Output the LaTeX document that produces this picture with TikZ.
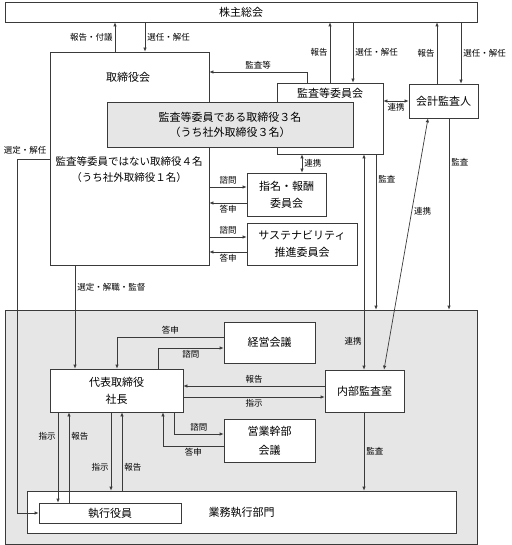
\documentclass[tikz,border=0pt]{standalone}
\usepackage{fontspec}
\setmainfont{Noto Sans CJK JP}
\usetikzlibrary{arrows.meta}
\definecolor{linegray}{HTML}{3A3A3A}
\definecolor{panelgray}{HTML}{E6E6E6}
\tikzset{
	box/.style={draw=linegray, line width=0.7pt, fill=white, inner sep=0pt, align=center, font=\fontsize{11}{17}\selectfont},
	txt/.style={inner sep=0pt, align=center, font=\fontsize{11}{16}\selectfont},
	lbl/.style={inner sep=2pt, font=\fontsize{8.5}{10}\selectfont},
	arr/.style={draw=linegray, line width=0.7pt, -{Latex[length=4pt,width=3.5pt]}},
	darr/.style={draw=linegray, line width=0.7pt, {Latex[length=4pt,width=3.5pt]}-{Latex[length=4pt,width=3.5pt]}}
}
\begin{document}
\begin{tikzpicture}[x=1pt,y=-1pt]
	\useasboundingbox (0,0) rectangle (511,545);
	\node[box, minimum width=472pt, minimum height=20pt] (soukai) at (241,12) {株主総会};
	\node[box, fill=panelgray, minimum width=472pt, minimum height=234pt] (shikkoarea) at (241,427) {};
	\node[box, minimum width=159pt, minimum height=213pt] (board) at (129.5,158.5) {};
	\node[txt] (boardT) at (128,77) {取締役会};
	\node[txt, font=\fontsize{10.5}{16}\selectfont] (boardM) at (129,170) {監査等委員ではない取締役４名\\（うち社外取締役１名）};
	\node[box, minimum width=106pt, minimum height=71pt] (iinkai) at (330,118.5) {};
	\node[txt] (iinkaiT) at (330,93) {監査等委員会};
	\node[box, fill=panelgray, font=\fontsize{11}{15}\selectfont, minimum width=246pt, minimum height=45pt] (kansa) at (230,124.5) {監査等委員である取締役３名\\（うち社外取締役３名）};
	\node[box, minimum width=69pt, minimum height=34pt] (kaikei) at (443.5,101) {会計監査人};
	\node[box, minimum width=79pt, minimum height=43pt] (shimei) at (286.5,194.5) {指名・報酬\\委員会};
	\node[box, minimum width=110pt, minimum height=42pt] (sustain) at (302,244) {サステナビリティ\\推進委員会};
	\node[box, minimum width=91pt, minimum height=41pt] (keiei) at (269.5,342.5) {経営会議};
	\node[box, minimum width=133pt, minimum height=43pt] (daihyo) at (116.5,390.5) {代表取締役\\社長};
	\node[box, minimum width=79pt, minimum height=42pt] (naibu) at (364.5,391) {内部監査室};
	\node[box, minimum width=91pt, minimum height=43pt, font=\fontsize{11}{19}\selectfont] (eigyo) at (269.5,440.5) {営業幹部\\会議};
	\node[box, minimum width=429pt, minimum height=42pt] (gyomu) at (241.5,512) {業務執行部門};
	\node[box, minimum width=142pt, minimum height=20pt] (shikko) at (110,513) {執行役員};
	\draw[arr] (board.north -| 115,0) -- (soukai.south -| 115,0) node[lbl,midway,left]{報告・付議};
	\draw[arr] (soukai.south -| 145,0) -- (board.north -| 145,0) node[lbl,midway,right]{選任・解任};
	\draw[arr] (iinkai.north -| 330,0) -- (soukai.south -| 330,0) node[lbl,midway,left]{報告};
	\draw[arr] (soukai.south -| 353,0) -- (iinkai.north -| 353,0) node[lbl,midway,right]{選任・解任};
	\draw[arr] (kaikei.north -| 437,0) -- (soukai.south -| 437,0) node[lbl,midway,left]{報告};
	\draw[arr] (soukai.south -| 461,0) -- (kaikei.north -| 461,0) node[lbl,midway,right]{選任・解任};
	\draw[arr] (iinkai.north -| 307,0) -- (307,72) -- (board.east |- 0,72) node[lbl,midway,above]{監査等};
	\draw[darr] (iinkai.east |- kaikei.west) -- (kaikei.west) node[lbl,midway,below]{連携};
	\draw[darr] (iinkai.south -| 302,0) -- (shimei.north -| 302,0) node[lbl,midway,right]{連携};
	\draw[arr] (board.east |- 0,187) -- (shimei.west |- 0,187) node[lbl,midway,above]{諮問};
	\draw[arr] (shimei.west |- 0,203) -- (board.east |- 0,203) node[lbl,midway,below]{答申};
	\draw[arr] (board.east |- 0,237) -- (sustain.west |- 0,237) node[lbl,midway,above]{諮問};
	\draw[arr] (sustain.west |- 0,252) -- (board.east |- 0,252) node[lbl,midway,below]{答申};
	\draw[arr] (board.west |- 0,159) -| (shikko.west -| 17,0) -- (shikko.west);
	\node[lbl] (senteiL) at (25,150) {選定・解任};
	\draw[arr] (board.south -| 75,0) -- (daihyo.north -| 75,0) node[lbl,pos=0.21,right]{選定・解職・監督};
	\draw[arr] (iinkai.south -| 376,0) -- (shikkoarea.north -| 376,0) node[lbl,pos=0.16,right]{監査};
	\draw[darr] (iinkai.south -| 364,0) -- (naibu.north -| 364,0) node[lbl,pos=0.87,left]{連携};
	\draw[arr] (kaikei.south -| 449,0) -- (shikkoarea.north -| 449,0) node[lbl,pos=0.23,right]{監査};
	\draw[darr] (kaikei.south -| 428,0) -- (naibu.north -| 384,0) node[lbl,pos=0.37,right]{連携};
	\draw[arr] (keiei.west |- 0,337) -| (daihyo.north -| 117,0) node[lbl,pos=0.25,above]{答申};
	\draw[arr] (daihyo.north -| 158,0) |- (keiei.west |- 0,348) node[lbl,pos=0.75,below]{諮問};
	\draw[arr] (naibu.west |- 0,386) -- (daihyo.east |- 0,386) node[lbl,midway,above]{報告};
	\draw[arr] (daihyo.east |- 0,397) -- (naibu.west |- 0,397) node[lbl,midway,below]{指示};
	\draw[arr] (daihyo.south -| 174,0) |- (eigyo.west |- 0,434) node[lbl,pos=0.75,above]{諮問};
	\draw[arr] (eigyo.west |- 0,446) -| (daihyo.south -| 163,0) node[lbl,pos=0.25,below]{答申};
	\draw[arr] (daihyo.south -| 58,0) -- (shikko.north -| 58,0) node[lbl,pos=0.27,left]{指示};
	\draw[arr] (shikko.north -| 69,0) -- (daihyo.south -| 69,0) node[lbl,pos=0.73,right]{報告};
	\draw[arr] (daihyo.south -| 111,0) -- (gyomu.north -| 111,0) node[lbl,pos=0.7,left]{指示};
	\draw[arr] (gyomu.north -| 122,0) -- (daihyo.south -| 122,0) node[lbl,pos=0.3,right]{報告};
	\draw[arr] (naibu.south -| 364,0) -- (gyomu.north -| 364,0) node[lbl,midway,right]{監査};
\end{tikzpicture}
\end{document}
